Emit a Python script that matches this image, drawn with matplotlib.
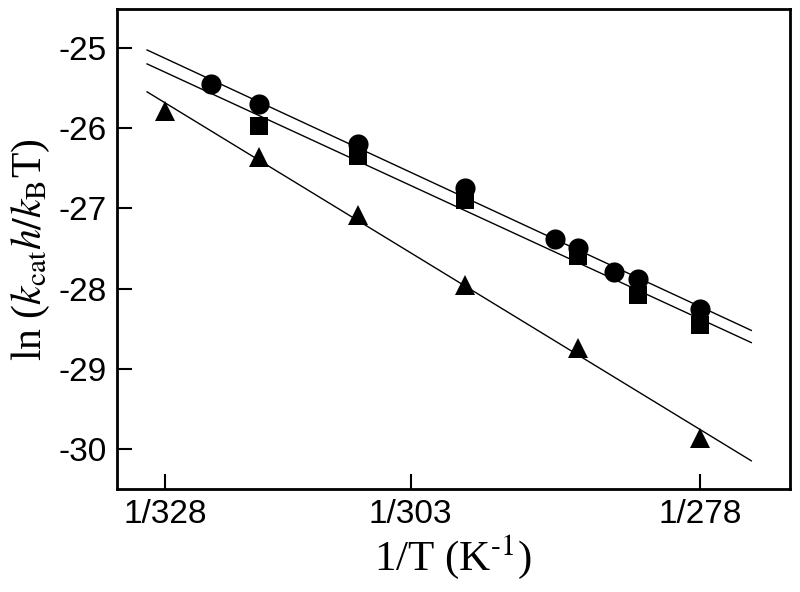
import numpy as np
import matplotlib
matplotlib.use("Agg")
import matplotlib.pyplot as plt

# -----------------------------
# Data (temperatures in K, ln(kcat h / kB T))
# -----------------------------
T_circle = [323, 318, 308, 298, 290, 288, 285, 283, 278]
y_circle = [-25.45, -25.70, -26.20, -26.75, -27.38, -27.50, -27.79, -27.88, -28.25]

T_square = [318, 308, 298, 288, 283, 278]
y_square = [-25.97, -26.35, -26.90, -27.60, -28.08, -28.46]

T_triangle = [328, 318, 308, 298, 288, 278]
y_triangle = [-25.79, -26.36, -27.08, -27.95, -28.74, -29.87]

# temperature range covered by the fitted lines
T_fit = [330, 274]

tick_T = [328, 303, 278]
tick_labels = ["1/328", "1/303", "1/278"]

# -----------------------------
# Figure
# -----------------------------
plt.rcParams["mathtext.fontset"] = "stix"

fig = plt.figure(figsize=(8, 5.92), dpi=100)
ax = fig.add_axes([0.146, 0.174, 0.8415, 0.81])

x_fit = 1.0 / np.array(T_fit, dtype=float)

series = [
    (T_circle, y_circle, "o", 14.5),
    (T_square, y_square, "s", 12.5),
    (T_triangle, y_triangle, "^", 14.5),
]

for T, y, marker, ms in series:
    x = 1.0 / np.array(T, dtype=float)
    slope, icpt = np.polyfit(x, y, 1)
    ax.plot(x_fit, slope * x_fit + icpt, color="black", linewidth=1.0)
    ax.plot(x, y, linestyle="none", marker=marker, markersize=ms,
            color="black", markeredgewidth=0)

ax.set_xlim(0.0029993, 0.0036893)
ax.set_ylim(-30.5, -24.52)

ax.set_xticks(1.0 / np.array(tick_T, dtype=float))
ax.set_xticklabels(tick_labels)
ax.set_yticks([-25, -26, -27, -28, -29, -30])
ax.set_yticklabels(["-25", "-26", "-27", "-28", "-29", "-30"])

for lab in ax.get_xticklabels() + ax.get_yticklabels():
    lab.set_family("Liberation Sans")
    lab.set_fontsize(24)

ax.tick_params(direction="in", length=11, width=1.5, pad=7)
for s in ax.spines.values():
    s.set_linewidth(2.0)

ax.set_xlabel(r"1/T (K$^{\text{-1}}$)", family="Liberation Serif",
              fontsize=31, labelpad=2)
ax.set_ylabel(r"ln ($k_{\mathrm{cat}}h/k_{\mathrm{B}}$T)", family="Liberation Serif",
              fontsize=30, labelpad=5)

fig.savefig("out.png", dpi=100)
